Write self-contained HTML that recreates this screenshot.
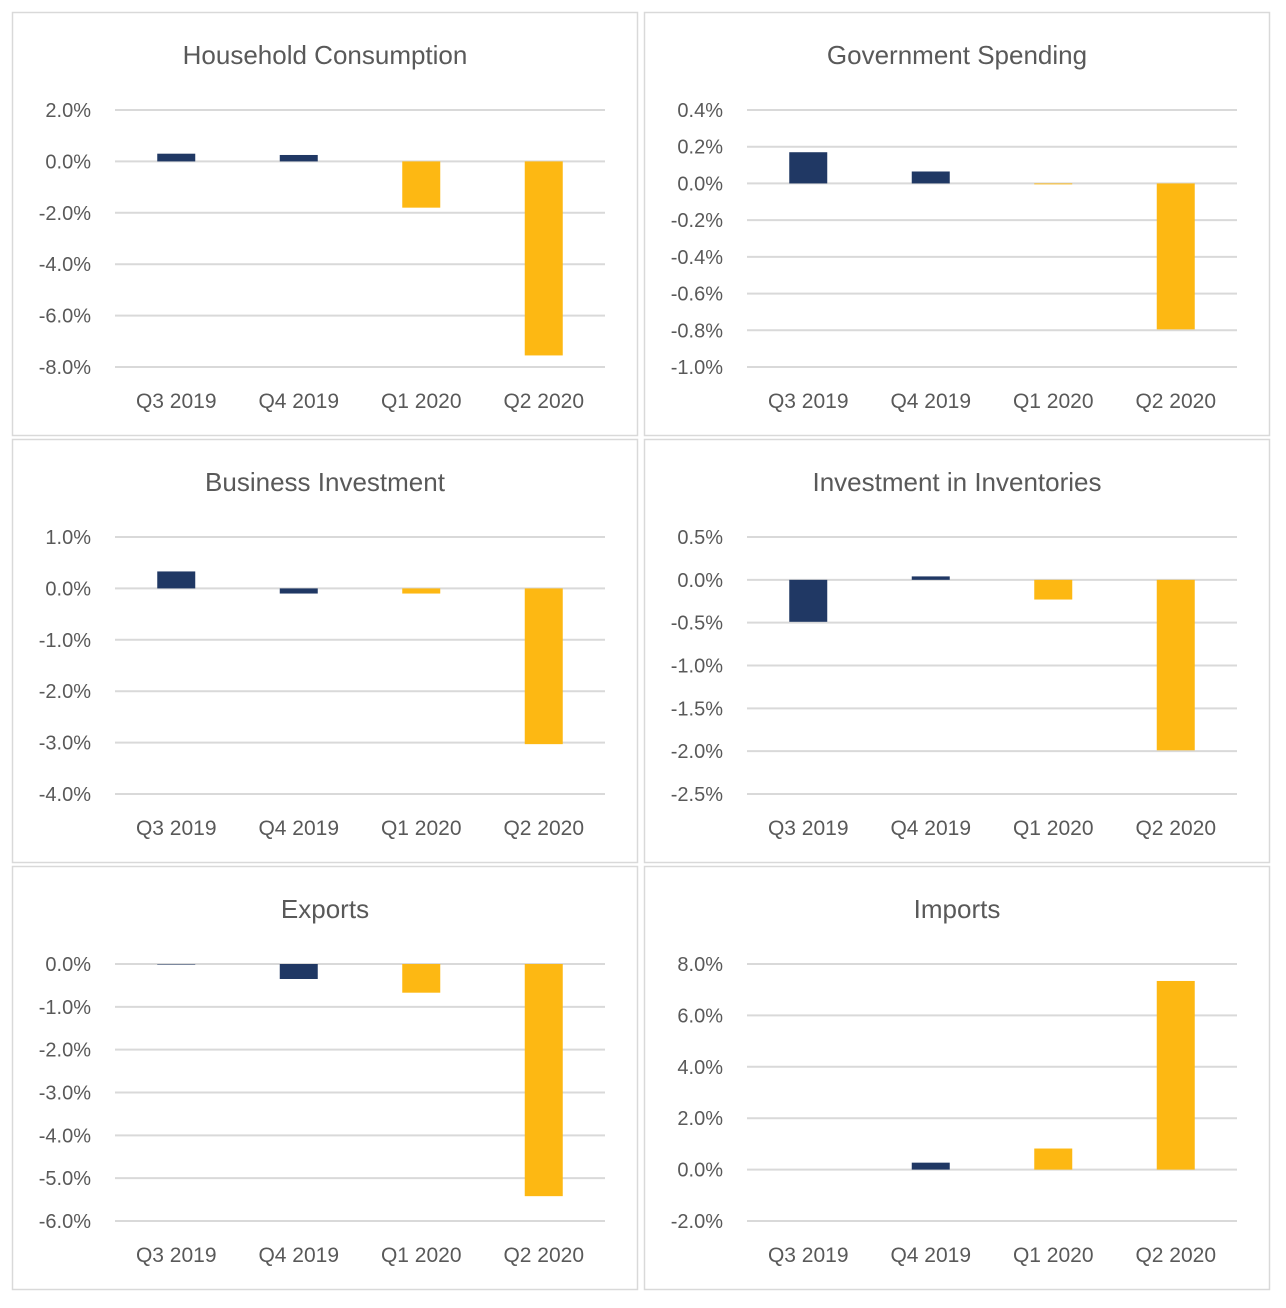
<!DOCTYPE html>
<html><head><meta charset="utf-8"><style>
body{margin:0;background:#fff;width:1286px;height:1303px;overflow:hidden;font-family:"Liberation Sans",sans-serif}
</style></head><body>
<svg id="chart" width="1286" height="1303" xmlns="http://www.w3.org/2000/svg"></svg>
<script>
const categories=["Q3 2019","Q4 2019","Q1 2020","Q2 2020"];
const titles=["Household Consumption","Government Spending","Business Investment","Investment in Inventories","Exports","Imports"];
const valsHousehold=[0.3,0.25,-1.8,-7.55];
const valsGovernment=[0.17,0.065,-0.005,-0.795];
const valsBusiness=[0.33,-0.1,-0.1,-3.03];
const valsInventories=[-0.49,0.04,-0.23,-1.99];
const valsExports=[-0.01,-0.35,-0.67,-5.42];
const valsImports=[0,0.27,0.82,7.34];
const axMax=[2,0.4,1,0.5,0,8];
const axMin=[-8,-1.0,-4,-2.5,-6,-2];
const axStep=[2,0.2,1,0.5,1,2];
const axDec=[1,1,1,1,1,1];
const allVals=[valsHousehold,valsGovernment,valsBusiness,valsInventories,valsExports,valsImports];
const svg=document.getElementById('chart');const NS="http://www.w3.org/2000/svg";
function mk(t,a,p){const e=document.createElementNS(NS,t);for(const k in a)e.setAttribute(k,a[k]);(p||svg).appendChild(e);return e;}
const slug=s=>s.toLowerCase().replace(/ /g,'-');
for(let i=0;i<6;i++){
  const L=i%2?644:12, T=[12,439,866][Math.floor(i/2)];
  const g=mk('g',{});
  
  
  const frame=mk('rect',{x:L+0.5,y:T+0.5,width:625,height:423,fill:'#fff',stroke:'#d9d9d9','stroke-width':1.5},g);
  
  
  const tt=mk('text',{x:L+313,y:T+52,'text-anchor':'middle','font-size':26,fill:'#595959'},g);tt.textContent=titles[i];
  
  
  const top=T+98,bot=T+355,x0=L+103,x1=L+593;
  const y=v=>top+(axMax[i]-v)/(axMax[i]-axMin[i])*(bot-top);
  const n=Math.round((axMax[i]-axMin[i])/axStep[i]);
  for(let k=0;k<=n;k++){const v=axMax[i]-k*axStep[i];const yy=y(v);
    const gl=mk('line',{x1:x0,x2:x1,y1:yy,y2:yy,stroke:'#d9d9d9','stroke-width':2},g);
    
    
    const tl=mk('text',{x:L+79,y:yy+7,'text-anchor':'end','font-size':20,fill:'#595959'},g);
    tl.textContent=(Math.abs(v)<1e-9?0:v).toFixed(axDec[i])+'%';
    
    }
  const step=(x1-x0)/4;
  categories.forEach((c,j)=>{const cx=x0+step*(j+0.5);const v=allVals[i][j];
    const y0=y(0),yv=y(v);
    if(v!==0){
      const b=mk('rect',{x:cx-19,y:Math.min(y0,yv),width:38,height:Math.max(Math.abs(yv-y0),0.5),fill:j<2?'#203864':'#FDB813'},g);
      
      
    }
    const cl=mk('text',{x:cx,y:T+396,'text-anchor':'middle','font-size':21,fill:'#595959'},g);cl.textContent=c;
    
    });
}
</script>
</body></html>
